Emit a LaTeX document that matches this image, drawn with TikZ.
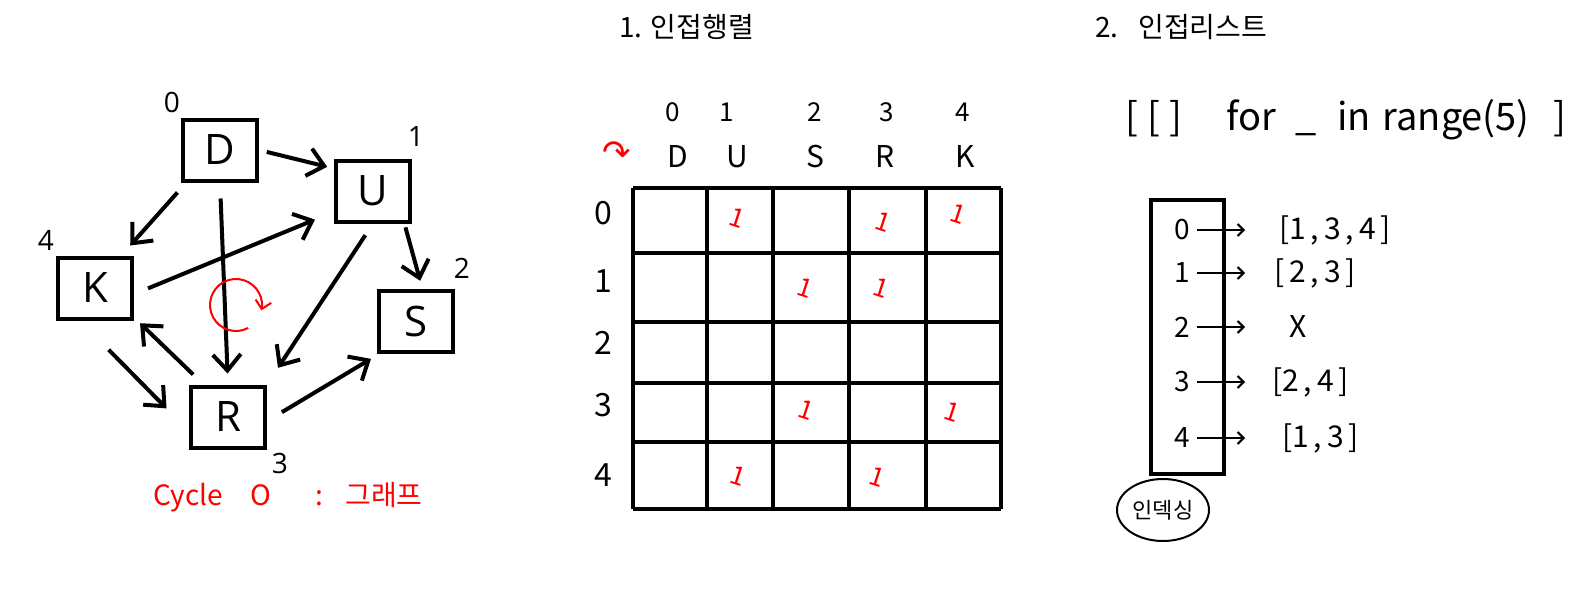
\documentclass[tikz,border=0pt]{standalone}
\usepackage{fontspec}
\setmainfont{Open Sans}
\newfontfamily\kr{Noto Sans CJK KR}
\newfontfamily\symb{DejaVu Sans}
\usetikzlibrary{arrows.meta,shapes.geometric}

\tikzset{
  vbox/.style={draw, line width=2pt, minimum width=37pt, minimum height=30.5pt, inner sep=0pt, font=\fontsize{21}{21}\selectfont},
  vnum/.style={font=\fontsize{14}{14}\selectfont},
  garrow/.style={line width=2pt, -{Straight Barb[length=8pt,width=14pt]}},
  hand/.style={font=\kr\fontsize{#1}{#1}\selectfont},
  hand/.default=13,
  gridline/.style={line width=1.6pt},
  onemark/.style={text=red, font=\kr\fontsize{13}{13}\selectfont, rotate=-18},
  listarrow/.style={line width=1pt, -{Straight Barb[length=3pt,width=6pt]}}
}

\begin{document}
\begin{tikzpicture}[x=0.5pt, y=-0.5pt]
\useasboundingbox (0,0) rectangle (1570,589);

% graph
\node[vbox] (D) at (220,150) {D};
\node[vbox] (U) at (373,191) {U};
\node[vbox] (K) at (95,288) {K};
\node[vbox] (S) at (416,321) {S};
\node[vbox] (R) at (228,417) {R};

\node[vnum] (nD) at (172,102) {0};
\node[vnum] (nU) at (416,137) {1};
\node[vnum] (nS) at (462,268) {2};
\node[vnum] (nR) at (280,463) {3};
\node[vnum] (nK) at (46,240) {4};

\draw[garrow, shorten <=4pt, shorten >=3.5pt] (D.east) -- (U.150);
\draw[garrow, shorten <=6.7pt, shorten >=6.7pt] (D.224) -- (K.51);
\draw[garrow, shorten <=8pt, shorten >=5.5pt] (D.south) -- (R.north);
\draw[garrow, shorten <=7.6pt, shorten >=10.3pt] (K.-9) -- (U.208);
\draw[garrow, shorten <=2pt, shorten >=4pt] (U.-46) -- (S.79);
\draw[garrow, shorten <=7pt, shorten >=10pt] (U.south) -- (R.north east);
\draw[garrow, shorten <=7.2pt, shorten >=4.2pt] (R.127) -- (K.-37);
\draw[garrow, shorten <=20.5pt, shorten >=16pt] (K.-115) -- (R.200);
\draw[garrow, shorten <=8.7pt, shorten >=5.2pt] (R.-6) -- (S.222);

% cycle mark
\draw[red, line width=1pt, -{Straight Barb[length=4pt,width=8pt]}]
  (236,305) ++(62:26) arc[start angle=62, end angle=372, radius=26];
\node[hand=14, text=red, anchor=west] (cyc) at (146,497)
  {Cycle\hspace{14pt}O\hspace{22pt}:\hspace{11pt}그래프};

% 1. adjacency matrix
\node[hand=14, anchor=west] (t1) at (612,27) {1. 인접행렬};
\foreach \xx/\d in {673/0,727/1,815/2,887/3,963/4}
  \node[hand=13] (c\d) at (\xx,112) {\d};
\foreach \xx/\l in {678/D,737/U,815/S,885/R,965/K}
  \node[hand=15] (h\l) at (\xx,157) {\l};
\node[text=red, font=\symb\fontsize{17}{17}\selectfont] (start) at (617,153) {↷};
\foreach \yy/\d in {213/0,281/1,343/2,405/3,475/4}
  \node[hand=16] (r\d) at (603,\yy) {\d};

\foreach \xx in {633,707,773,849,926,1001}
  \draw[gridline] (\xx,188) -- (\xx,509);
\foreach \yy in {188,253,322,383,442,509}
  \draw[gridline] (633,\yy) -- (1001,\yy);

\foreach \xx/\yy in {737/218,883/222,958/214,805/288,881/288,806/410,952/412,738/476,877/477}
  \node[onemark] at (\xx,\yy) {1};

% 2. adjacency list
\node[hand=14, anchor=west] (t2) at (1088,27) {2.\hspace{10pt}인접리스트};
\node[hand=19, anchor=west] (code) at (1118,120)
  {[\hspace{5pt}[ ]\hspace{22pt}for\hspace{10pt}\_\hspace{10pt}in\hspace{6pt}range(5)\hspace{12pt}]};

\draw[line width=1.7pt] (1151,200) rectangle (1224,474);
\foreach \r/\yy/\xx/\txt in {0/230/1272/{[1\,,\,3\,,\,4\,]},1/273/1267/{[\,2\,,\,3\,]},2/327/1282/{X},3/382/1265/{[2\,,\,4\,]},4/438/1275/{[1\,,\,3\,]}}
{
  \node[hand=14] (i\r) at (1182,\yy) {\r};
  \node[hand=15, anchor=west] (l\r) at (\xx,\yy) {\txt};
  \pgfmathsetmacro{\gap}{(\xx-1245)*0.5}
  \draw[listarrow, shorten >=\gap pt] (i\r.east) -- (l\r.west);
}
\node[draw, ellipse, line width=1pt, minimum width=46pt, minimum height=31pt, inner sep=0pt, hand=11] (idx) at (1163,510) {인덱싱};
\end{tikzpicture}
\end{document}
